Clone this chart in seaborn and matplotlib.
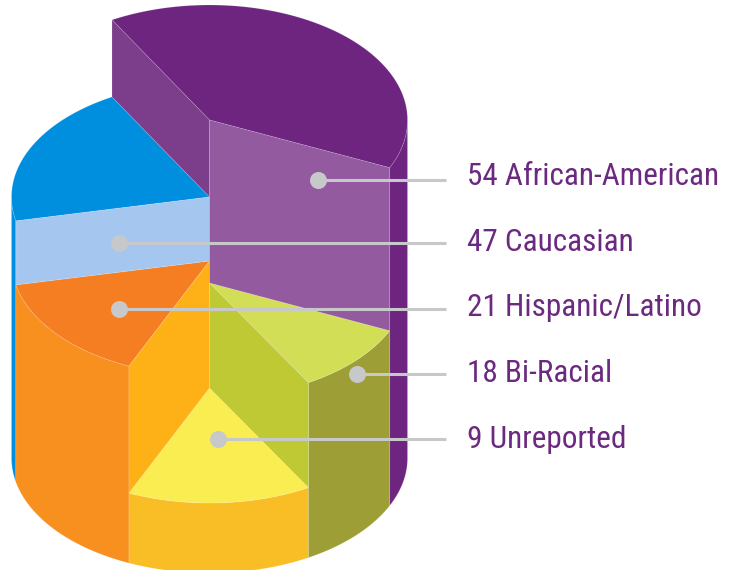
import numpy as np
import pandas as pd
import seaborn as sns
import matplotlib.pyplot as plt

# Chart values and labels
groups = ['African-American', 'Caucasian', 'Hispanic/Latino', 'Bi-Racial', 'Unreported']
counts = [54, 47, 21, 18, 9]
# the artwork is not proportional, so the sweeps are read off the picture
sweeps = [144, 72.5, 54, 35.5, 54]
depths = [0, 77, 141, 163, 268]

top_colors = ['#6e2580', '#008fdf', '#f67e22', '#d2df56', '#faed52']
side_colors = ['#6e2580', '#008fdf', '#f7901e', '#9e9e36', '#f9bd26']
# wall that runs down from each slice into the next one going counter-clockwise
wall_colors = ['#7c3d8a', '#a5c6ef', '#fdb116', '#945aa0', '#bfc933']
text_color = '#6b2a80'
leader_color = '#c6c8ca'

# Geometry of the cylinder in picture pixels
cx, cy, rx, ry = 209.5, 120, 198, 115
base_y = 458
start_angle = -24.5
walk = [0, 1, 2, 4, 3]  # counter-clockwise order of the slices


def arc(a, b, y0):
    t = np.radians(np.linspace(a, b, 200))
    return cx + rx * np.cos(t), y0 - ry * np.sin(t)


sns.set_theme(style='white')
plt.rcParams['font.family'] = ['Roboto Condensed', 'Liberation Sans', 'DejaVu Sans']

fig, ax = plt.subplots(figsize=(7.33, 5.70), dpi=100)
fig.subplots_adjust(left=0, right=1, bottom=0, top=1)
ax.set_xlim(0, 733)
ax.set_ylim(570, 0)
ax.axis('off')

seam = dict(edgecolor=(1, 1, 1, 0.15), linewidth=0.6)

# Outer sides and tops
angle = start_angle
bounds = {}
for i in walk:
    a, b = angle, angle + sweeps[i]
    bounds[i] = (a, b)
    angle = b
    level = cy + depths[i]

    t = np.linspace(a, b, 300)
    t = t[np.sin(np.radians(t)) <= 0]
    if len(t) > 1:
        xs, ys = arc(t[0], t[-1], level)
        xb, yb = arc(t[-1], t[0], base_y)
        ax.fill(np.r_[xs, xb], np.r_[ys, yb], facecolor=side_colors[i], **seam)

    xs, ys = arc(a, b, level)
    ax.fill(np.r_[cx, xs], np.r_[level, ys], facecolor=top_colors[i], **seam)

# Radial walls between neighbouring slices
for pos, i in enumerate(walk):
    j = walk[(pos + 1) % len(walk)]
    t = np.radians(bounds[i][1])
    upper, lower = sorted([cy + depths[i], cy + depths[j]])
    ex = cx + rx * np.cos(t)
    dy = -ry * np.sin(t)
    ax.fill([cx, ex, ex, cx], [upper, upper + dy, lower + dy, lower],
            facecolor=wall_colors[i], **seam)

# Leader lines, dots and labels
dots = pd.DataFrame({
    'group': groups,
    'x': [318, 119, 119, 357, 218],
    'y': [180, 243, 309, 374, 439],
})
ax.hlines(dots['y'], dots['x'], 446, color=leader_color, linewidth=2.2, zorder=5)
sns.scatterplot(data=dots, x='x', y='y', ax=ax, color=leader_color, s=150,
                linewidth=0, legend=False, zorder=6)
ax.axis('off')

baselines = [185, 251, 316, 382, 448]
for n, name, yb in zip(counts, groups, baselines):
    ax.text(467, yb, f'{n} {name}', color=text_color, fontsize=22.5, va='baseline', ha='left')

fig.savefig('out.png', dpi=100)
